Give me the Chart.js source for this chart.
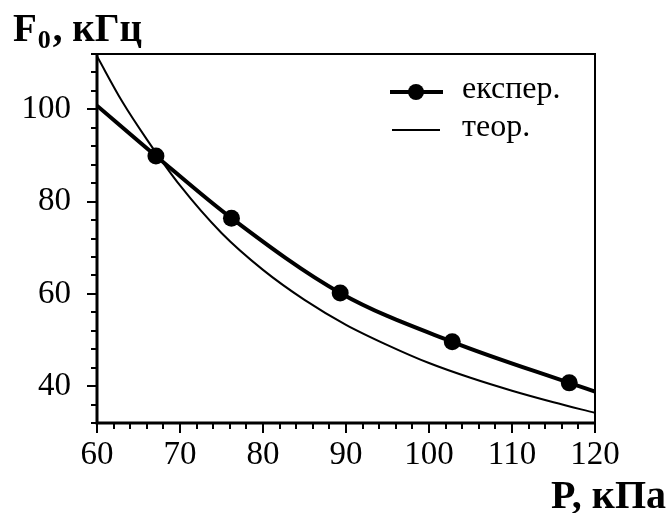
<!DOCTYPE html>
<html>
<head>
<meta charset="utf-8">
<script src="https://cdn.jsdelivr.net/npm/chart.js@4"></script>
<style>
  html, body { margin: 0; padding: 0; background: #fff; }
  #wrap { width: 669px; height: 513px; }
</style>
</head>
<body>
<div id="wrap"><canvas id="chart" width="669" height="513"></canvas></div>
<script>
// measured points (експер.)
const expPressure = [67.1, 76.2, 89.3, 102.8, 116.9];
const expFreq = [89.9, 76.4, 60.2, 49.6, 40.7];
// fitted curve through the measurements
const fitPressure = [60, 67.1, 76.2, 89.3, 102.8, 116.9, 120];
const fitFreq = [100.8, 89.9, 76.4, 60.2, 49.6, 40.7, 38.8];
// theory curve (теор.)
const theoryPressure = [60, 63, 66, 70, 75, 80, 85, 90, 95, 100, 105, 110, 115, 120];
const theoryFreq = [111.5, 101.8, 93.5, 83.5, 73.2, 65.2, 58.7, 53.3, 48.9, 45, 41.8, 39, 36.5, 34.2];

const xMajor = [60, 70, 80, 90, 100, 110, 120];
const yMajor = [40, 60, 80, 100];

const serif = "'Liberation Serif', 'Times New Roman', serif";

function pairs(xs, ys) {
  return xs.map((x, i) => ({ x: x, y: ys[i] }));
}

// frame, ticks, legend and axis titles
const decor = {
  id: 'decor',
  afterDraw(chart) {
    const ctx = chart.ctx;
    const a = chart.chartArea;
    const xs = chart.scales.x, ys = chart.scales.y;
    ctx.save();
    ctx.strokeStyle = '#000';
    ctx.lineWidth = 2;
    ctx.strokeRect(a.left, a.top, a.right - a.left, a.bottom - a.top);
    ctx.lineWidth = 3;
    ctx.beginPath();
    ctx.moveTo(a.left, a.top);
    ctx.lineTo(a.left, a.bottom);
    ctx.lineTo(a.right, a.bottom);
    ctx.stroke();

    // ticks, pointing outward
    ctx.lineWidth = 2;
    ctx.beginPath();
    xs.ticks.forEach(t => {
      const px = Math.round(xs.getPixelForValue(t.value));
      const len = xMajor.includes(t.value) ? 10 : 6;
      ctx.moveTo(px, a.bottom);
      ctx.lineTo(px, a.bottom + len);
    });
    ys.ticks.forEach(t => {
      const py = Math.round(ys.getPixelForValue(t.value));
      const len = yMajor.includes(t.value) ? 10 : 6;
      ctx.moveTo(a.left, py);
      ctx.lineTo(a.left - len, py);
    });
    ctx.stroke();

    // legend
    const lx = a.right - 205;
    const ds0 = chart.data.datasets[0], ds2 = chart.data.datasets[2];
    ctx.strokeStyle = '#000';
    ctx.lineWidth = ds0.borderWidth;
    ctx.beginPath();
    ctx.moveTo(lx, a.top + 38);
    ctx.lineTo(lx + 53, a.top + 38);
    ctx.stroke();
    ctx.beginPath();
    ctx.arc(lx + 26, a.top + 38, 8, 0, Math.PI * 2);
    ctx.fillStyle = '#000';
    ctx.fill();
    ctx.lineWidth = ds2.borderWidth;
    ctx.beginPath();
    ctx.moveTo(lx + 2, a.top + 76);
    ctx.lineTo(lx + 50, a.top + 76);
    ctx.stroke();
    ctx.font = '32px ' + serif;
    ctx.textBaseline = 'middle';
    ctx.textAlign = 'left';
    ctx.fillText(ds0.label, lx + 72, a.top + 36);
    ctx.fillText(ds2.label, lx + 72, a.top + 74);

    // axis titles
    ctx.font = 'bold 39px ' + serif;
    ctx.textBaseline = 'alphabetic';
    ctx.textAlign = 'left';
    ctx.fillText('F', 13, 41);
    let w = ctx.measureText('F').width;
    ctx.font = 'bold 26px ' + serif;
    ctx.fillText('0', 13 + w + 1, 48);
    const w0 = ctx.measureText('0').width;
    ctx.font = 'bold 39px ' + serif;
    ctx.fillText(', кГц', 13 + w + w0 + 3, 41);
    ctx.font = 'bold 40px ' + serif;
    ctx.textAlign = 'right';
    ctx.fillText('P, кПа', 666, 508);
    ctx.restore();
  }
};

new Chart(document.getElementById('chart'), {
  type: 'line',
  data: {
    datasets: [
      {
        label: 'експер.',
        data: pairs(fitPressure, fitFreq),
        borderColor: '#000',
        borderWidth: 4,
        pointRadius: 0,
        cubicInterpolationMode: 'monotone',
        fill: false
      },
      {
        label: 'points',
        data: pairs(expPressure, expFreq),
        showLine: false,
        pointRadius: 8.5,
        pointBackgroundColor: '#000',
        pointBorderColor: '#000',
        pointBorderWidth: 0
      },
      {
        label: 'теор.',
        data: pairs(theoryPressure, theoryFreq),
        borderColor: '#000',
        borderWidth: 2,
        pointRadius: 0,
        cubicInterpolationMode: 'monotone',
        fill: false
      }
    ]
  },
  options: {
    responsive: false,
    animation: false,
    devicePixelRatio: 1,
    layout: { padding: { left: 0, top: 54, right: 74, bottom: 0 } },
    plugins: { legend: { display: false }, tooltip: { enabled: false } },
    scales: {
      x: {
        type: 'linear',
        min: 60,
        max: 120,
        afterFit: s => { s.height = 90; },
        grid: { display: false },
        border: { display: false },
        ticks: {
          stepSize: 2,
          autoSkip: false,
          maxRotation: 0,
          padding: 5,
          color: '#000',
          font: { family: serif, size: 33 },
          callback: v => xMajor.includes(v) ? String(v) : ''
        }
      },
      y: {
        type: 'linear',
        min: 32,
        max: 112,
        afterFit: s => { s.width = 97; },
        grid: { display: false },
        border: { display: false },
        ticks: {
          stepSize: 4,
          autoSkip: false,
          padding: 18,
          color: '#000',
          font: { family: serif, size: 33 },
          callback: v => yMajor.includes(v) ? String(v) : ''
        }
      }
    }
  },
  plugins: [decor]
});
</script>
</body>
</html>
